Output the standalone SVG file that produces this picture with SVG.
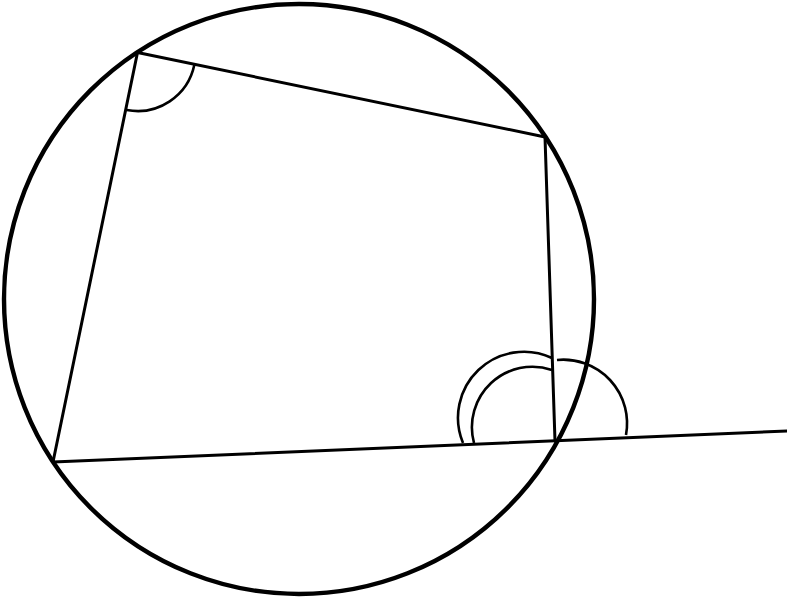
<svg xmlns="http://www.w3.org/2000/svg" width="787" height="599" viewBox="0 0 787 599">
  <style>
    .circ { fill: none; stroke: #000; stroke-width: 4.4; }
    .edge { fill: none; stroke: #000; stroke-width: 3; stroke-linecap: round; }
    .arc { fill: none; stroke: #000; stroke-width: 2.6; }
  </style>
  <rect width="787" height="599" fill="#fff"/>
  <g id="circle">
    <circle class="circ" cx="299" cy="299" r="295"/>
  </g>
  <g id="edges">
    <line class="edge" x1="137.5" y1="52.5" x2="545" y2="137"/>
    <line class="edge" x1="545" y1="137" x2="555" y2="441"/>
    <line class="edge" x1="137.5" y1="52.5" x2="53" y2="462"/>
    <line class="edge" x1="53" y1="462" x2="787" y2="431"/>
  </g>
  <g id="angles">
    <path class="arc" d="M 126.7 110 A 58 58 0 0 0 194.3 65"/>
    <path class="arc" d="M 463 443 A 66 66 0 0 1 552 358"/>
    <path class="arc" d="M 474 443 A 60.5 60.5 0 0 1 552 370"/>
    <path class="arc" d="M 557 360 A 63.7 63.7 0 0 1 626 435"/>
  </g>
</svg>
